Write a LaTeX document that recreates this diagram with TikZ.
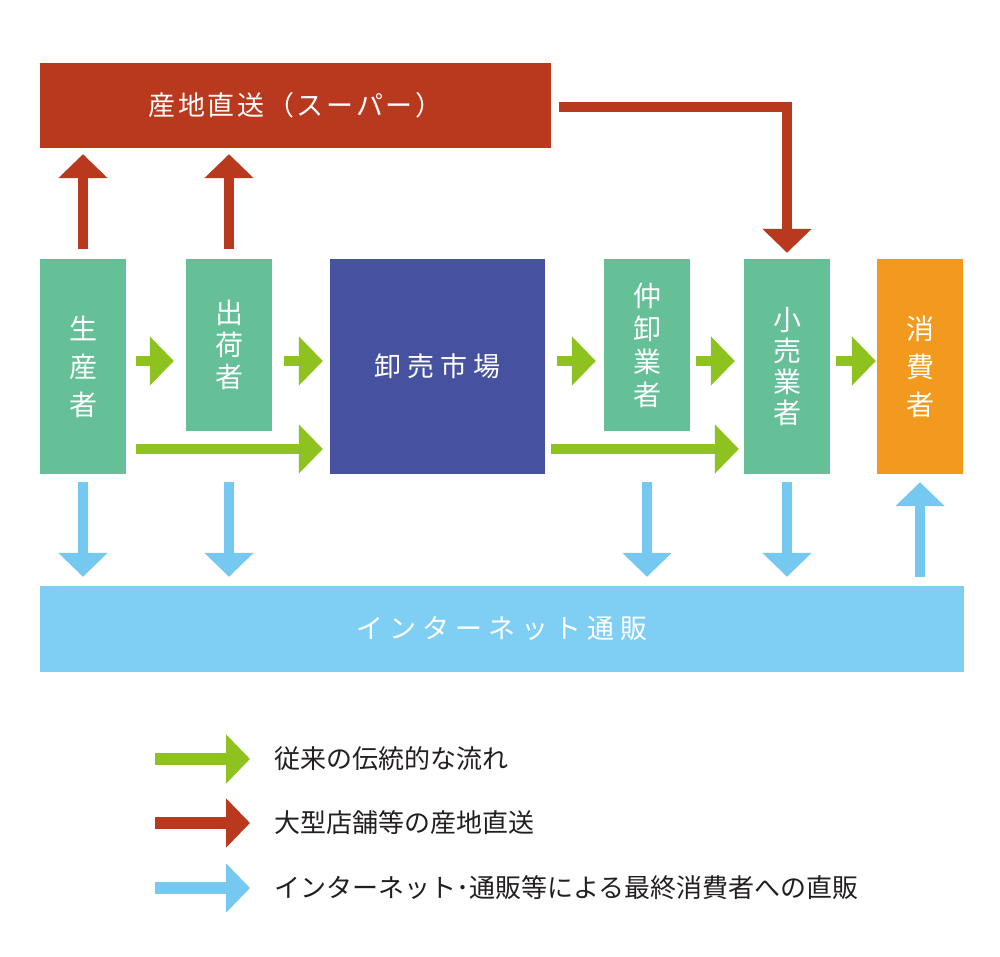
\documentclass[tikz,border=0pt]{standalone}
\usepackage{fontspec}
\newfontfamily\jpfont{Noto Sans CJK JP}
\usetikzlibrary{arrows.meta,positioning}

\definecolor{directred}{HTML}{B9391F}
\definecolor{tradegreen}{HTML}{65BF97}
\definecolor{marketblue}{HTML}{4652A0}
\definecolor{buyerorange}{HTML}{F39A1E}
\definecolor{netblue}{HTML}{7FCEF4}
\definecolor{flowgreen}{HTML}{8DC21F}
\definecolor{flowblue}{HTML}{75C8F0}
\definecolor{legendtext}{HTML}{231F20}

\newcommand{\spaced}[1]{\jpfont\fontsize{27}{32}\selectfont\addfontfeature{LetterSpace=#1}}
\newcommand{\stacked}[1]{\jpfont\fontsize{28}{#1}\selectfont}

\tikzset{
  box/.style={fill=#1, inner sep=0, text=white, align=center},
  flow/.style={draw=#1, line width=10pt, -{Triangle[width=48pt,length=24pt]}},
  legend/.style={anchor=west, inner sep=0, text=legendtext, font=\jpfont\fontsize{26}{30}\selectfont},
}

\begin{document}
\begin{tikzpicture}[x=1pt,y=-1pt]
    \useasboundingbox (0,0) rectangle (1000,957);

    % boxes
    \node(direct)[box=directred, minimum width=511pt, minimum height=85pt, font=\spaced{10}] at (295.5,105.5) {産地直送（スーパー）};
    \node(prod)[box=tradegreen, minimum width=86pt, minimum height=215pt, font=\stacked{38}] at (83,366.5) {生\\産\\者};
    \node(ship)[box=tradegreen, minimum width=86pt, minimum height=172pt, font=\stacked{32}] at (229,345) {出\\荷\\者};
    \node(market)[box=marketblue, minimum width=215pt, minimum height=215pt, font=\spaced{22}] at (437.5,366.5) {卸売市場};
    \node(mid)[box=tradegreen, minimum width=86pt, minimum height=172pt, font=\stacked{33}] at (647,345) {仲\\卸\\業\\者};
    \node(retail)[box=tradegreen, minimum width=86pt, minimum height=215pt, font=\stacked{31}] at (787,366.5) {小\\売\\業\\者};
    \node(cons)[box=buyerorange, minimum width=86pt, minimum height=215pt, font=\stacked{38}] at (920,366.5) {消\\費\\者};
    \node(net)[box=netblue, minimum width=924pt, minimum height=86pt, font=\spaced{22}] at (502,629) {インターネット通販};

    \coordinate(row1) at (0,361);
    \coordinate(row2) at (0,449);

    % traditional flow
    \draw[flow=flowgreen, shorten <=10pt, shorten >=12pt] (prod.east |- row1) -- (ship.west |- row1);
    \draw[flow=flowgreen, shorten <=12pt, shorten >=7pt] (ship.east |- row1) -- (market.west |- row1);
    \draw[flow=flowgreen, shorten <=12pt, shorten >=8pt] (market.east |- row1) -- (mid.west |- row1);
    \draw[flow=flowgreen, shorten <=6pt, shorten >=9pt] (mid.east |- row1) -- (retail.west |- row1);
    \draw[flow=flowgreen, shorten <=6pt, shorten >=1pt] (retail.east |- row1) -- (cons.west |- row1);
    \draw[flow=flowgreen, shorten <=10pt, shorten >=7pt] (prod.east |- row2) -- (market.west |- row2);
    \draw[flow=flowgreen, shorten <=6pt, shorten >=5pt] (market.east |- row2) -- (retail.west |- row2);

    % direct shipping
    \draw[flow=directred, shorten <=10pt, shorten >=6pt] (prod.north) -- (prod.north |- direct.south);
    \draw[flow=directred, shorten <=10pt, shorten >=6pt] (ship.north) -- (ship.north |- direct.south);
    \draw[flow=directred, shorten <=8pt, shorten >=6pt] ([yshift=-2pt]direct.east) -| (retail.north);

    % internet sales
    \draw[flow=flowblue, shorten <=8pt, shorten >=9pt] (prod.south) -- (prod.south |- net.north);
    \draw[flow=flowblue, shorten <=8pt, shorten >=9pt] (ship.south |- prod.south) -- (ship.south |- net.north);
    \draw[flow=flowblue, shorten <=8pt, shorten >=9pt] (mid.south |- prod.south) -- (mid.south |- net.north);
    \draw[flow=flowblue, shorten <=8pt, shorten >=9pt] (retail.south) -- (retail.south |- net.north);
    \draw[flow=flowblue, shorten <=9pt, shorten >=8pt] (cons.south |- net.north) -- (cons.south);

    % legend
    \node(lg1)[legend] at (274,759) {従来の伝統的な流れ};
    \node(lg2)[legend] at (274,823) {大型店舗等の産地直送};
    \node(lg3)[legend] at (274,888) {インターネット･通販等による最終消費者への直販};
    \coordinate(k1) at (155,759);
    \coordinate(k2) at (155,823);
    \coordinate(k3) at (155,888);
    \draw[flow=flowgreen, line width=12pt, shorten >=24pt] (k1) -- (lg1.west);
    \draw[flow=directred, line width=12pt, shorten >=24pt] (k2) -- (lg2.west);
    \draw[flow=flowblue, line width=12pt, shorten >=24pt] (k3) -- (lg3.west);
\end{tikzpicture}
\end{document}
